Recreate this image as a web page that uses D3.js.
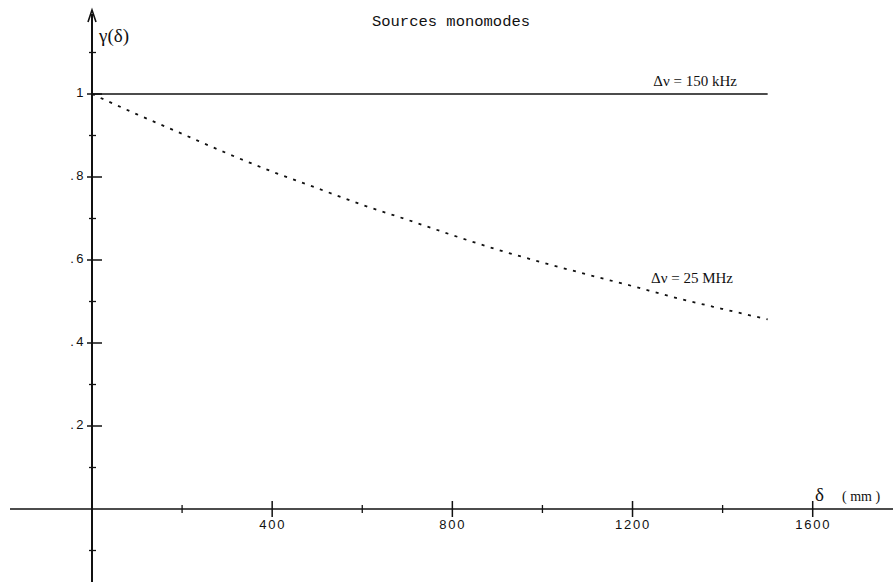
<!DOCTYPE html>
<html>
<head>
<meta charset="utf-8">
<script src="https://cdn.jsdelivr.net/npm/d3@7"></script>
<style>
  body { margin: 0; background: #fff; }
  svg { display: block; }
</style>
</head>
<body>
<div id="chart"></div>
<script>
// path difference (mm) and coherence
const deltaMM = [0, 100, 200, 300, 400, 500, 600, 700, 800, 900, 1000, 1100, 1200, 1300, 1400, 1500]
const gamma25MHz = [1.000, 0.951, 0.904, 0.857, 0.813, 0.773, 0.733, 0.697, 0.660, 0.625, 0.594, 0.565, 0.537, 0.508, 0.482, 0.457]
const delta150kHz = [0, 1500]
const gamma150kHz = [1, 1]

const xMajorTicks = [400, 800, 1200, 1600]
const xMinorTicks = [200, 600, 1000, 1400]
const yMajorTicks = [0.2, 0.4, 0.6, 0.8, 1]
const yMinorTicks = [-0.1, 0.1, 0.3, 0.5, 0.7, 0.9, 1.1]

const title = "Sources monomodes"
const label150 = "Δν = 150 kHz"
const label25 = "Δν = 25 MHz"

const width = 893, height = 586

const x = d3.scaleLinear().domain([0, 1600]).range([92, 812.7])
const y = d3.scaleLinear().domain([0, 1]).range([509, 94])

const svg = d3.select("#chart").append("svg")
  .attr("width", width)
  .attr("height", height)

// axes lines
svg.append("line")
  .attr("x1", 10).attr("x2", width)
  .attr("y1", y(0)).attr("y2", y(0))
  .attr("stroke", "#111").attr("stroke-width", 1.5)

svg.append("line")
  .attr("x1", x(0)).attr("x2", x(0))
  .attr("y1", 582).attr("y2", 14)
  .attr("stroke", "#111").attr("stroke-width", 2)

// arrow at the top of the y axis
svg.append("path")
  .attr("d", `M${x(0) - 4},${22} L${x(0)},${10} L${x(0) + 4},${22}`)
  .attr("fill", "none")
  .attr("stroke", "#111")
  .attr("stroke-width", 1.6)

// x ticks (crossing the axis)
svg.append("g").selectAll("line")
  .data(xMajorTicks)
  .join("line")
    .attr("x1", d => x(d)).attr("x2", d => x(d))
    .attr("y1", y(0) - 8).attr("y2", y(0) + 8)
    .attr("stroke", "#111").attr("stroke-width", 1.5)

svg.append("g").selectAll("line")
  .data(xMinorTicks)
  .join("line")
    .attr("x1", d => x(d)).attr("x2", d => x(d))
    .attr("y1", y(0) - 4).attr("y2", y(0) + 4)
    .attr("stroke", "#111").attr("stroke-width", 1.3)

// x labels via d3 axis, domain and ticks hidden
const xAxis = svg.append("g")
  .attr("transform", `translate(0,${y(0)})`)
  .call(d3.axisBottom(x).tickValues(xMajorTicks).tickFormat(d3.format("d")).tickSize(0).tickPadding(11))
xAxis.select(".domain").remove()
xAxis.selectAll("text")
  .attr("font-family", "'Liberation Sans', Arial, sans-serif")
  .attr("font-size", 13)
  .attr("letter-spacing", 1.8)
  .attr("fill", "#111")

// y ticks
svg.append("g").selectAll("line")
  .data(yMajorTicks)
  .join("line")
    .attr("x1", x(0) - 5).attr("x2", x(0) + 10)
    .attr("y1", d => y(d)).attr("y2", d => y(d))
    .attr("stroke", "#111").attr("stroke-width", 1.5)

svg.append("g").selectAll("line")
  .data(yMinorTicks)
  .join("line")
    .attr("x1", x(0) - 3).attr("x2", x(0) + 4)
    .attr("y1", d => y(d)).attr("y2", d => y(d))
    .attr("stroke", "#111").attr("stroke-width", 1.3)

const fmtY = d => d === 1 ? "1" : "." + d3.format(".1f")(d).split(".")[1]

svg.append("g").selectAll("text")
  .data(yMajorTicks)
  .join("text")
    .attr("x", x(0) - 6)
    .attr("y", d => y(d) + 3)
    .attr("text-anchor", "end")
    .attr("font-family", "'Liberation Sans', Arial, sans-serif")
    .attr("font-size", 13)
    .attr("letter-spacing", 2.5)
    .attr("fill", "#111")
    .text(fmtY)

// curves
const line = d3.line()
  .x(d => x(d[0]))
  .y(d => y(d[1]))

svg.append("path")
  .datum(d3.zip(delta150kHz, gamma150kHz))
  .attr("d", line)
  .attr("fill", "none")
  .attr("stroke", "#111")
  .attr("stroke-width", 1.5)

svg.append("path")
  .datum(d3.zip(deltaMM, gamma25MHz))
  .attr("d", line.curve(d3.curveMonotoneX))
  .attr("fill", "none")
  .attr("stroke", "#111")
  .attr("stroke-width", 1.8)
  .attr("stroke-dasharray", "3,6.5")

// text labels
svg.append("text")
  .attr("x", 451).attr("y", 26)
  .attr("text-anchor", "middle")
  .attr("font-family", "'Liberation Mono', 'Courier New', monospace")
  .attr("font-size", 15.5)
  .attr("fill", "#111")
  .text(title)

const serif = "'Liberation Serif', 'Times New Roman', serif"

svg.append("text")
  .attr("x", 737).attr("y", 86)
  .attr("text-anchor", "end")
  .attr("font-family", serif)
  .attr("font-size", 15)
  .attr("fill", "#111")
  .text(label150)

svg.append("text")
  .attr("x", 651).attr("y", 283)
  .attr("font-family", serif)
  .attr("font-size", 15)
  .attr("fill", "#111")
  .text(label25)

svg.append("text")
  .attr("x", 99).attr("y", 42)
  .attr("font-family", serif)
  .attr("font-size", 19)
  .attr("fill", "#111")
  .text("γ(δ)")

svg.append("text")
  .attr("x", 815).attr("y", 501)
  .attr("font-family", serif)
  .attr("font-size", 19)
  .attr("fill", "#111")
  .text("δ")

svg.append("text")
  .attr("x", 842).attr("y", 501)
  .attr("font-family", serif)
  .attr("font-size", 14)
  .attr("fill", "#111")
  .attr("xml:space", "preserve")
  .text("( mm )")
</script>
</body>
</html>
